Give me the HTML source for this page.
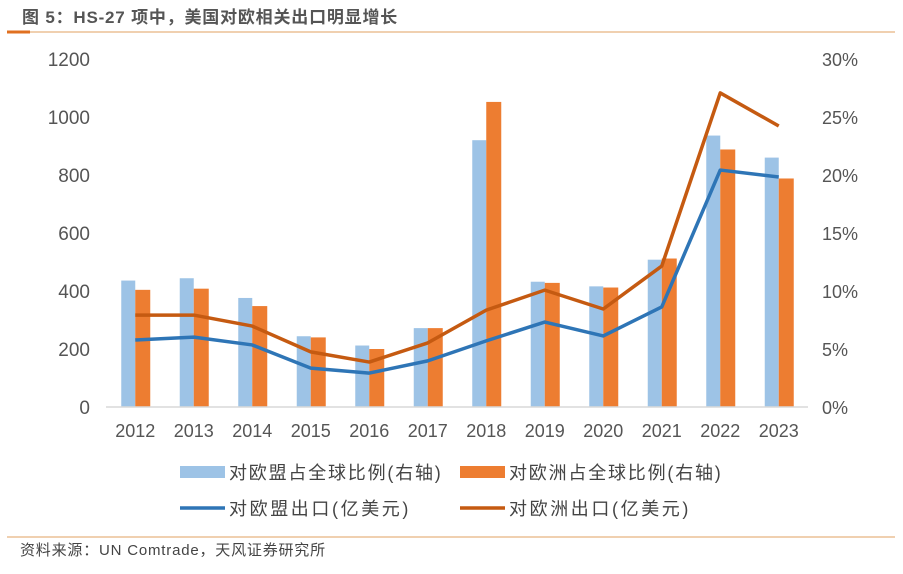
<!DOCTYPE html>
<html><head><meta charset="utf-8"><style>
body{margin:0;background:#fff;width:903px;height:569px;overflow:hidden;font-family:"Liberation Sans","Noto Sans CJK SC",sans-serif}
svg text{font-family:"Liberation Sans","Noto Sans CJK SC",sans-serif}
</style></head><body>
<svg id="c" width="903" height="569">
<text x="22" y="23" font-size="17" font-weight="bold" fill="#555" letter-spacing="0.8">图 5：HS-27 项中，美国对欧相关出口明显增长</text>
<line x1="7" y1="32" x2="895" y2="32" stroke="#e0a060" stroke-width="1"/>
<line x1="7" y1="32" x2="30" y2="32" stroke="#e07020" stroke-width="3"/>
<line x1="7" y1="537" x2="895" y2="537" stroke="#e0a060" stroke-width="1"/>
<text x="20" y="555" font-size="15" fill="#444" letter-spacing="0.8">资料来源：UN Comtrade，天风证券研究所</text>
<g id="plot"></g>
<g>
<rect x="180" y="466" width="45" height="12" fill="#9dc3e6"/>
<text x="229" y="479" font-size="18" fill="#444" letter-spacing="1.8">对欧盟占全球比例(右轴)</text>
<rect x="460" y="466" width="45" height="12" fill="#ed7d31"/>
<text x="509" y="479" font-size="18" fill="#444" letter-spacing="1.8">对欧洲占全球比例(右轴)</text>
<line x1="180" y1="508" x2="225" y2="508" stroke="#2e75b6" stroke-width="3.5"/>
<text x="229" y="515" font-size="18" fill="#444" letter-spacing="2.6">对欧盟出口(亿美元)</text>
<line x1="460" y1="508" x2="505" y2="508" stroke="#c55a11" stroke-width="3.5"/>
<text x="509" y="515" font-size="18" fill="#444" letter-spacing="2.6">对欧洲出口(亿美元)</text>
</g>
</svg>
<script>
const years=["2012","2013","2014","2015","2016","2017","2018","2019","2020","2021","2022","2023"];
const euShare=[10.9,11.1,9.4,6.1,5.3,6.8,23.0,10.8,10.4,12.7,23.4,21.5];
const europeShare=[10.1,10.2,8.7,6.0,5.0,6.8,26.3,10.7,10.3,12.8,22.2,19.7];
const euExport=[231,241,214,134,117,159,228,293,245,345,817,793];
const europeExport=[317,317,279,190,155,221,334,403,338,486,1083,969];
const leftTicks=[0,200,400,600,800,1000,1200];
const rightTicks=["0%","5%","10%","15%","20%","25%","30%"];
const NS="http://www.w3.org/2000/svg";
const g=document.getElementById('plot');
const x0=106,x1=808,yTop=59,yBot=407;
const step=(x1-x0)/years.length;
const xc=i=>x0+step*(i+0.5);
const yL=v=>yBot-(v/1200)*(yBot-yTop);
const yR=v=>yBot-(v/30)*(yBot-yTop);
function mk(t,a){const e=document.createElementNS(NS,t);for(const k in a)e.setAttribute(k,a[k]);g.appendChild(e);return e;}
leftTicks.forEach((v,i)=>{
 const t=mk('text',{x:90,y:yL(v)+7,'font-size':19,fill:'#555','text-anchor':'end'});t.textContent=v;
 
 
 const r=mk('text',{x:822,y:yL(v)+7,'font-size':18,fill:'#555'});r.textContent=rightTicks[i];
 
 
});
years.forEach((y,i)=>{
 const b=mk('rect',{x:xc(i)-14,y:yR(euShare[i]),width:14,height:yBot-yR(euShare[i]),fill:'#9dc3e6'});
 
 
 const o=mk('rect',{x:xc(i),y:yR(europeShare[i]),width:15,height:yBot-yR(europeShare[i]),fill:'#ed7d31'});
 
 
 const t=mk('text',{x:xc(i),y:437,'font-size':18,fill:'#555','text-anchor':'middle'});t.textContent=y;
 
 
});
const ax=mk('line',{x1:x0,y1:yBot,x2:x1,y2:yBot,stroke:'#d9d9d9','stroke-width':1.5});


const l1=mk('polyline',{points:euExport.map((v,i)=>xc(i)+','+yL(v)).join(' '),fill:'none',stroke:'#2e75b6','stroke-width':3.5,'stroke-linejoin':'round'});


const l2=mk('polyline',{points:europeExport.map((v,i)=>xc(i)+','+yL(v)).join(' '),fill:'none',stroke:'#c55a11','stroke-width':3.5,'stroke-linejoin':'round'});


</script>
</body></html>
